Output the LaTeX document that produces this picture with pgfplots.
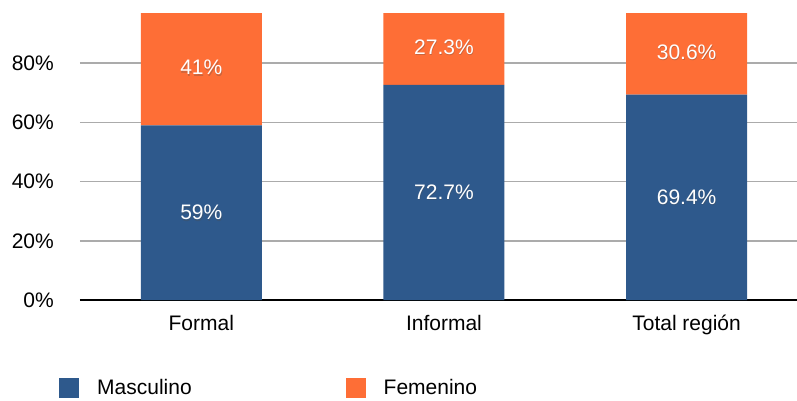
\documentclass[border=0pt]{standalone}
\usepackage{fontspec}
\setmainfont{Liberation Sans}
\usepackage{pgfplots}
\pgfplotsset{compat=1.18}
\definecolor{masc}{HTML}{2E598C}
\definecolor{fem}{HTML}{FE6E36}
\definecolor{gridgray}{HTML}{ABABAB}

\pgfplotsset{
    marco/.style={
        at={(0,0)}, anchor=south west,
        scale only axis, width=717pt, height=286pt,
        xmin=-0.5, xmax=2.455, ymin=0, ymax=96.6,
    },
    etiqueta/.style={
        sharp plot, draw=none, mark=none,
        nodes near coords, point meta=explicit symbolic,
        nodes near coords style={anchor=center, text=#1},
    },
}

\begin{document}
\fontsize{21}{25}\selectfont
\begin{tikzpicture}
\begin{axis}[
    marco,
    ybar stacked, bar width=121pt,
    xtick={0,1,2},
    xticklabels={Formal,Informal,Total región},
    ytick={0,20,40,60,80},
    yticklabels={0\%,20\%,40\%,60\%,80\%},
    axis x line*=bottom, axis y line*=left,
    y axis line style={draw=none},
    x axis line style={black, line width=1.5pt},
    major tick length=0pt,
    ymajorgrids, grid style={gridgray, line width=1.5pt},
    yticklabel style={anchor=east, inner sep=0pt, xshift=-26pt},
    xticklabel style={anchor=base, inner sep=0pt, yshift=-30pt},
    legend style={at={(rel axis cs:-0.0293,-0.3077)}, anchor=west,
        draw=none, fill=none, inner sep=0pt,
        nodes={inner sep=0pt, text=black},
        /tikz/column 1/.style={column sep=18pt},
        /tikz/column 2/.style={column sep=154pt},
        /tikz/column 3/.style={column sep=18pt}},
    legend columns=2,
    legend cell align=left,
    legend image code/.code={\path[#1,draw=none] (0pt,-10pt) rectangle (20pt,10pt);},
]
% Masculino
\addplot[fill=masc, draw=none] coordinates {(0,59) (1,72.7) (2,69.4)};
% Femenino
\addplot[fill=fem, draw=none] coordinates {(0,41) (1,27.3) (2,30.6)};
\legend{Masculino,Femenino}
\end{axis}

% etiquetas de valores (sin apilar)
\begin{axis}[marco, hide axis]
\addplot[etiqueta={black!70}, opacity=0.3, nodes near coords style={xshift=0.6pt, yshift=-1.2pt}]
    coordinates {(0,29.5) [59\%] (1,36.35) [72.7\%] (2,34.7) [69.4\%]};
\addplot[etiqueta={black!70}, opacity=0.3, nodes near coords style={xshift=0.6pt, yshift=-1.2pt}]
    coordinates {(0,78.5) [41\%] (1,85.3) [27.3\%] (2,83.8) [30.6\%]};
\addplot[etiqueta=white]
    coordinates {(0,29.5) [59\%] (1,36.35) [72.7\%] (2,34.7) [69.4\%]};
\addplot[etiqueta=white]
    coordinates {(0,78.5) [41\%] (1,85.3) [27.3\%] (2,83.8) [30.6\%]};
\end{axis}
\pgfresetboundingbox
\path[use as bounding box] (-80pt,-100pt) rectangle (717pt,300pt);
\end{tikzpicture}
\end{document}
